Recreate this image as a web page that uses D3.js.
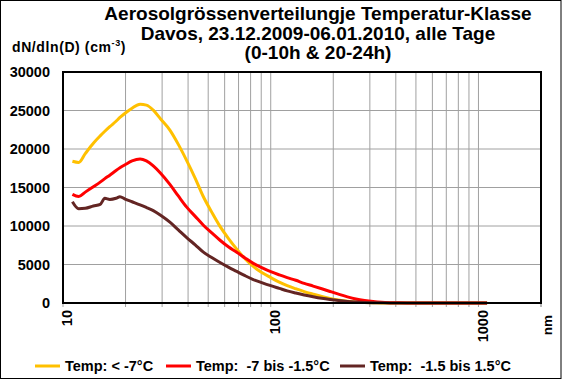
<!DOCTYPE html>
<html>
<head>
<meta charset="utf-8">
<script src="https://cdn.jsdelivr.net/npm/d3@7"></script>
<style>
  body { margin: 0; background: #fff; }
  svg { display: block; font-family: "Liberation Sans", Arial, sans-serif; }
</style>
</head>
<body>
<script>
const w = 562;
const h = 380;

// Durchmesser (nm)
const diam = [11.1, 11.9, 12.8, 14.0, 15.1, 15.9, 16.8, 18.0, 18.8, 19.9,
  21.5, 23.5, 25.2, 27.2, 29.5, 32.7, 35.9, 39.4, 43.3, 47.4,
  52.0, 57.0, 62.5, 68.6, 75.2, 82.4, 90.5, 100, 110, 120,
  132, 145, 160, 176, 193, 212, 234, 257, 283, 311,
  342, 376, 414, 455, 500, 600, 700, 800, 900, 1000, 1100];

// dN/dln(D) pro Temperaturklasse
const kalt = [18400, 18250, 19400, 20750, 21700, 22300, 22900, 23600, 24100, 24650,
  25300, 25800, 25700, 25050, 23900, 22450, 20600, 18500, 16200, 13800,
  11800, 9950, 8400, 7000, 5750, 4750, 3950, 3300, 2700, 2250,
  1850, 1480, 1150, 850, 600, 380, 220, 120, 60, 30,
  15, 8, 5, 3, 2, 1, 1, 0, 0, 0, 0];
const mittel = [14100, 13820, 14400, 15100, 15700, 16150, 16600, 17200, 17550, 17950,
  18450, 18700, 18450, 17800, 16850, 15400, 13900, 12450, 11250, 10100,
  9100, 8150, 7300, 6600, 5850, 5150, 4600, 4070, 3650, 3300,
  2950, 2550, 2200, 1850, 1500, 1150, 800, 520, 320, 180,
  90, 45, 20, 10, 6, 3, 2, 1, 1, 1, 1];
const warm = [13150, 12250, 12300, 12600, 12800, 13600, 13450, 13600, 13800, 13500,
  13150, 12750, 12400, 12000, 11400, 10500, 9500, 8500, 7550, 6600,
  5900, 5250, 4650, 4100, 3550, 3050, 2650, 2250, 1900, 1580,
  1300, 1050, 820, 620, 460, 320, 200, 120, 65, 35,
  18, 10, 6, 4, 3, 2, 1, 1, 1, 1, 1];

const seriesNames = ["Temp: < -7°C", "Temp:  -7 bis -1.5°C", "Temp:  -1.5 bis 1.5°C"];
const seriesColors = ["#FFC000", "#FF0000", "#632523"];
const yTicks = [0, 5000, 10000, 15000, 20000, 25000, 30000];
const xLabels = [10, 100, 1000];
const titleLines = ["Aerosolgrössenverteilungje Temperatur-Klasse",
  "Davos, 23.12.2009-06.01.2010, alle Tage", "(0-10h & 20-24h)"];

const pLeft = 63, pRight = 541, pTop = 72, pBottom = 303;

const svg = d3.select("body").append("svg").attr("width", w).attr("height", h);

// Rahmen
svg.append("rect").attr("x", 0.5).attr("y", 0.5).attr("width", w - 1.5).attr("height", h - 2)
  .attr("fill", "#fff").attr("stroke", "#000").attr("stroke-width", 1);

const xScale = d3.scaleLog().domain([10, 2000]).range([pLeft, pRight]);
const yScale = d3.scaleLinear().domain([0, 30000]).range([pBottom, pTop]);

// Gitter
const xGrid = [];
[10, 100, 1000].forEach(dec => { for (let k = 1; k <= 9; k++) if (dec * k <= 2000) xGrid.push(dec * k); });
xGrid.push(2000);

svg.append("g").selectAll("line").data(xGrid).enter().append("line")
  .attr("x1", d => xScale(d)).attr("x2", d => xScale(d))
  .attr("y1", pTop).attr("y2", pBottom + 4)
  .attr("stroke", "#a0a0a0").attr("stroke-width", 1);

svg.append("g").selectAll("line").data(yTicks.slice(1, -1)).enter().append("line")
  .attr("x1", pLeft).attr("x2", pRight)
  .attr("y1", d => yScale(d)).attr("y2", d => yScale(d))
  .attr("stroke", "#a0a0a0").attr("stroke-width", 1);

// Linien
const line = d3.line()
  .x((d, i) => xScale(diam[i]))
  .y(d => yScale(d))
  .curve(d3.curveMonotoneX);

[kalt, mittel, warm].forEach((s, i) => {
  svg.append("path").datum(s)
    .attr("d", line)
    .attr("fill", "none")
    .attr("stroke", seriesColors[i])
    .attr("stroke-width", 3)
    .attr("stroke-linejoin", "round");
});

// Plotrahmen
svg.append("rect").attr("x", pLeft).attr("y", pTop)
  .attr("width", pRight - pLeft).attr("height", pBottom - pTop)
  .attr("fill", "none").attr("stroke", "#000").attr("stroke-width", 2);

// y-Achse Beschriftung
svg.append("g").selectAll("text").data(yTicks).enter().append("text")
  .attr("x", 50).attr("y", d => yScale(d)).attr("dy", "0.35em")
  .attr("text-anchor", "end")
  .style("font-size", "14.5px").style("font-weight", "bold")
  .text(d => d);

// x-Achse Beschriftung
svg.append("g").selectAll("text").data(xLabels).enter().append("text")
  .attr("transform", d => "translate(" + (xScale(d) + 4) + "," + 310 + ") rotate(-90)")
  .attr("dy", "0.35em")
  .attr("text-anchor", "end")
  .style("font-size", "14.5px").style("font-weight", "bold")
  .text(d => d);

svg.append("text")
  .attr("transform", "translate(547,315) rotate(-90)")
  .attr("dy", "0.35em")
  .attr("text-anchor", "end")
  .style("font-size", "13.5px").style("font-weight", "bold")
  .text("nm");

// y-Achsentitel
const yt = svg.append("text").attr("x", 12).attr("y", 52)
  .style("font-size", "14px").style("font-weight", "bold")
  .style("letter-spacing", "0.6px");
yt.append("tspan").text("dN/dln(D) (cm");
yt.append("tspan").attr("dy", -6).style("font-size", "9px").text("-3");
yt.append("tspan").attr("dy", 6).text(")");

// Titel
svg.append("g").selectAll("text").data(titleLines).enter().append("text")
  .attr("x", 318).attr("y", (d, i) => 20 + i * 19.5)
  .attr("text-anchor", "middle")
  .style("font-size", "19px").style("font-weight", "bold")
  .text(d => d);

// Legende
const legX = [35, 166, 340];
const leg = svg.append("g").selectAll("g").data(seriesNames).enter().append("g")
  .attr("transform", (d, i) => "translate(" + legX[i] + ",366)");
leg.append("line").attr("x1", 0).attr("x2", 25).attr("y1", 0).attr("y2", 0)
  .attr("stroke", (d, i) => seriesColors[i]).attr("stroke-width", 3);
leg.append("text").attr("x", 30).attr("y", 0).attr("dy", "0.35em")
  .style("font-size", "14.5px").style("font-weight", "bold")
  .style("white-space", "pre")
  .text(d => d);
</script>
</body>
</html>
